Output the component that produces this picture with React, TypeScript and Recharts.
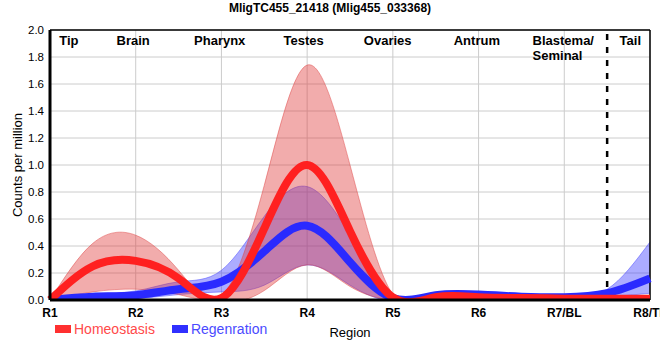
import {
  Area,
  CartesianGrid,
  ComposedChart,
  Line,
  ReferenceLine,
  XAxis,
  YAxis,
} from 'recharts';

// region ticks on the x axis
const regionTicks = ['R1', 'R2', 'R3', 'R4', 'R5', 'R6', 'R7/BL', 'R8/TL'];
const regionX = [1, 2, 3, 4, 5, 6, 7, 8];

const sampleX = [1, 1.5, 2, 2.5, 3, 3.5, 4, 4.5, 5, 5.5, 6, 6.5, 7, 7.5, 8];

const homeoMean = [0.0, 0.25, 0.29, 0.16, 0.015, 0.53, 1.0, 0.51, 0.02, 0.02, 0.02, 0.015, 0.01, 0.01, 0.01];
const homeoLow = [0.0, 0.06, 0.08, 0.04, -0.02, 0.07, 0.26, 0.1, 0.0, 0.0, 0.0, -0.01, -0.01, -0.01, 0.0];
const homeoHigh = [0.0, 0.42, 0.48, 0.22, 0.03, 0.85, 1.74, 1.0, 0.04, 0.04, 0.04, 0.03, 0.02, 0.02, 0.02];

const regenMean = [0.0, 0.025, 0.035, 0.08, 0.135, 0.36, 0.55, 0.28, 0.015, 0.035, 0.04, 0.025, 0.02, 0.05, 0.16];
const regenLow = [0.0, 0.0, 0.01, 0.04, 0.06, 0.11, 0.26, 0.11, -0.01, 0.02, 0.03, 0.015, 0.0, 0.02, 0.05];
const regenHigh = [0.01, 0.045, 0.067, 0.135, 0.22, 0.62, 0.84, 0.48, 0.03, 0.05, 0.06, 0.035, 0.03, 0.08, 0.43];

const tissueNames = ['Tip', 'Brain', 'Pharynx', 'Testes', 'Ovaries', 'Antrum', 'Blastema/|Seminal', 'Tail'];
const tissueX = [1.22, 1.97, 2.98, 3.96, 4.94, 5.98, 6.63, 7.77];

const yTicks = [0, 0.2, 0.4, 0.6, 0.8, 1.0, 1.2, 1.4, 1.6, 1.8, 2.0];

const data = sampleX.map((x, i) => ({
  x,
  hm: homeoMean[i],
  hr: [homeoLow[i], homeoHigh[i]],
  rm: regenMean[i],
  rr: [regenLow[i], regenHigh[i]],
}));

const font = 'Arial, "Liberation Sans", sans-serif';
const curve = 'natural';

function TissueLabel({ viewBox, name, anchor }: any) {
  const lines = name.split('|');
  return (
    <text x={viewBox.x} y={viewBox.y + 15} textAnchor={anchor} fontFamily={font} fontSize={13} fontWeight="bold" fill="#000">
      {lines.map((l: string, i: number) => (
        <tspan key={i} x={viewBox.x} dy={i === 0 ? 0 : 15}>
          {l}
        </tspan>
      ))}
    </text>
  );
}

export default function App() {
  return (
    <div style={{ position: 'absolute', left: 0, top: 0, width: 660, height: 360, background: '#fff', fontFamily: font }}>
      <div style={{ position: 'absolute', top: 1, width: 660, textAlign: 'center', fontSize: 12, fontWeight: 'bold' }}>
        MligTC455_21418 (Mlig455_033368)
      </div>
      <ComposedChart width={660} height={360} data={data} margin={{ top: 30, right: 10, left: 0, bottom: 20 }}>
        <CartesianGrid stroke="#cccccc" />
        <XAxis
          dataKey="x"
          type="number"
          domain={[1, 8]}
          ticks={regionX}
          tickFormatter={(v, i) => regionTicks[i]}
          interval={0}
          height={40}
          axisLine={{ stroke: '#000', strokeWidth: 3 }}
          tickLine={false}
          tick={{ fontSize: 12, fontWeight: 'bold', fill: '#000', fontFamily: font }}
          label={{ value: 'Region', position: 'insideBottom', offset: 3, fontSize: 13, fill: '#000', fontFamily: font }}
        />
        <YAxis
          type="number"
          domain={[0, 2]}
          ticks={yTicks}
          allowDataOverflow
          width={50}
          tickFormatter={(v) => v.toFixed(1)}
          axisLine={{ stroke: '#000', strokeWidth: 3 }}
          tickLine={false}
          tickSize={4}
          tick={{ fontSize: 11.5, fill: '#000', fontFamily: font }}
          label={{
            value: 'Counts per million',
            angle: -90,
            position: 'insideLeft',
            offset: 17,
            fontSize: 13,
            fill: '#000',
            fontFamily: font,
            style: { textAnchor: 'middle' },
          }}
        />
        <ReferenceLine y={2} stroke="#000" strokeWidth={1.5} />
        <ReferenceLine x={8} stroke="#000" strokeWidth={1.5} />
        <ReferenceLine x={7.5} stroke="#000" strokeWidth={2.5} strokeDasharray="6 7" />
        {tissueNames.map((n, i) => (
          <ReferenceLine
            key={n}
            x={tissueX[i]}
            stroke="none"
            label={(p: any) => <TissueLabel viewBox={p.viewBox} name={n} anchor={n.includes('|') ? 'start' : 'middle'} />}
          />
        ))}
        <Area
          dataKey="rr"
          type={curve}
          fill="#3a3aff"
          fillOpacity={0.42}
          stroke="#4a4aff"
          strokeOpacity={0.5}
          strokeWidth={1}
          isAnimationActive={false}
        />
        <Line dataKey="rm" type={curve} stroke="#2a2aff" strokeWidth={8} dot={false} isAnimationActive={false} />
        <Area
          dataKey="hr"
          type={curve}
          fill="#e03a3a"
          fillOpacity={0.42}
          stroke="#e04a4a"
          strokeOpacity={0.5}
          strokeWidth={1}
          isAnimationActive={false}
        />
        <Line dataKey="hm" type={curve} stroke="#ff2020" strokeWidth={8} dot={false} isAnimationActive={false} />
      </ComposedChart>
      <div style={{ position: 'absolute', left: 55, top: 321, display: 'flex', alignItems: 'center', fontSize: 14 }}>
        <span style={{ display: 'inline-block', width: 16, height: 8, background: '#ff3030', marginRight: 3 }} />
        <span style={{ color: '#ff4a4a', marginRight: 17 }}>Homeostasis</span>
        <span style={{ display: 'inline-block', width: 16, height: 8, background: '#3030ff', marginRight: 3 }} />
        <span style={{ color: '#4a4aff' }}>Regenration</span>
      </div>
    </div>
  );
}
